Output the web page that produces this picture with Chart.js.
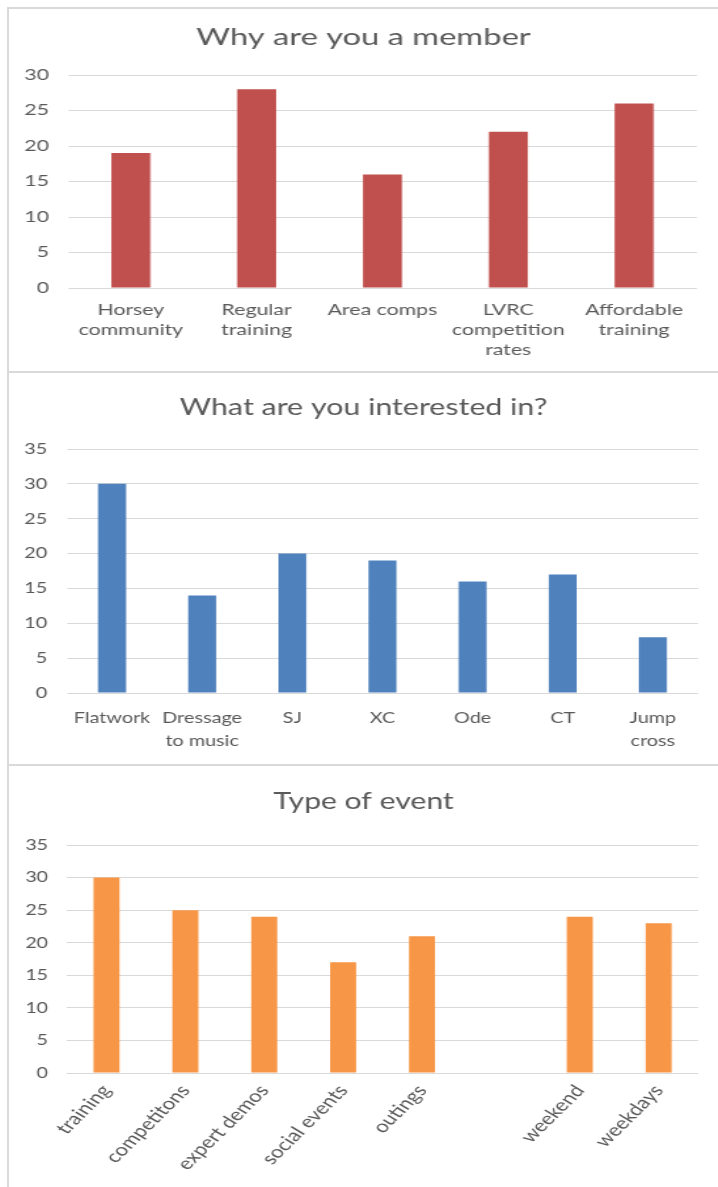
<!DOCTYPE html>
<html>
<head>
<meta charset="utf-8">
<script src="https://cdn.jsdelivr.net/npm/chart.js@4.4.1/dist/chart.umd.min.js"></script>
<style>
  body { margin: 0; background: #fff; width: 718px; height: 1187px; overflow: hidden; position: relative; }
  .line { position: absolute; background: #d9d9d9; }
  .panel { position: absolute; left: 9px; transform-origin: 0 0; }
</style>
</head>
<body>
<div class="line" style="left:7px;top:7px;width:711px;height:2px"></div>
<div class="line" style="left:7px;top:7px;width:2px;height:1180px"></div>
<div class="line" style="left:7px;top:371px;width:711px;height:2px"></div>
<div class="line" style="left:7px;top:764px;width:711px;height:2px"></div>

<div class="panel" id="panel1" style="top:9px;width:499px;height:362px"><canvas id="memberChart"></canvas></div>
<div class="panel" id="panel2" style="top:373px;width:537px;height:391px"><canvas id="interestChart"></canvas></div>
<div class="panel" id="panel3" style="top:766px;width:541px;height:421px"><canvas id="eventChart"></canvas></div>

<script>
// Why are you a member
const memberLabels = [['Horsey', 'community'], ['Regular', 'training'], 'Area comps', ['LVRC', 'competition', 'rates'], ['Affordable', 'training']];
const memberCounts = [19, 28, 16, 22, 26];

// What are you interested in?
const interestLabels = ['Flatwork', ['Dressage', 'to music'], 'SJ', 'XC', 'Ode', 'CT', ['Jump', 'cross']];
const interestCounts = [30, 14, 20, 19, 16, 17, 8];

// Type of event (one empty slot between outings and weekend)
const eventLabels = ['training', 'competitons', 'expert demos', 'social events', 'outings', '', 'weekend', 'weekdays'];
const eventCounts = [30, 25, 24, 17, 21, null, 24, 23];

const TEXT = '#595959';
const GRID = '#d9d9d9';
const FONT = 'Lato';

// the source picture is stretched sideways, so each panel is drawn narrow and scaled out
function stretchPanel(id) {
    const el = document.getElementById(id);
    const w = parseFloat(el.style.width);
    el.style.transform = 'scaleX(' + (709 / w) + ')';
}

function barChart(canvasId, cfg) {
    const ctx = document.getElementById(canvasId);
    if (!ctx) return;

    new Chart(ctx, {
        type: 'bar',
        data: {
            labels: cfg.labels,
            datasets: [{
                data: cfg.values,
                backgroundColor: cfg.color,
                borderWidth: 0,
                barPercentage: cfg.barPct,
                categoryPercentage: 1
            }]
        },
        options: {
            responsive: true,
            maintainAspectRatio: false,
            animation: false,
            devicePixelRatio: 1,
            layout: { padding: 0 },
            plugins: {
                legend: { display: false },
                tooltip: { enabled: false },
                title: {
                    display: true,
                    text: cfg.title,
                    color: TEXT,
                    font: { family: FONT, size: 23, weight: 'normal', lineHeight: 1.2 },
                    padding: { top: cfg.titleTop, bottom: cfg.titleBottom }
                }
            },
            scales: {
                x: {
                    grid: { display: false, drawTicks: false },
                    border: { display: false },
                    ticks: {
                        color: TEXT,
                        font: { family: FONT, size: cfg.labelSize, lineHeight: cfg.labelLine },
                        padding: cfg.labelPad,
                        autoSkip: false,
                        minRotation: cfg.rotation,
                        maxRotation: cfg.rotation
                    },
                    afterFit: s => { s.height = cfg.xHeight; }
                },
                y: {
                    min: 0,
                    max: cfg.max,
                    grid: { color: GRID, lineWidth: 1, drawTicks: false },
                    border: { display: false },
                    ticks: {
                        stepSize: 5,
                        color: TEXT,
                        font: { family: FONT, size: 15 },
                        padding: cfg.yPad
                    },
                    afterFit: s => { s.width = cfg.yWidth; }
                },
                // empty right margin, keeps the title centred on the whole panel
                yRight: {
                    position: 'right',
                    grid: { display: false, drawTicks: false },
                    border: { display: false },
                    ticks: { display: false },
                    afterFit: s => { s.width = cfg.padRight; }
                }
            }
        }
    });
}

stretchPanel('panel1');
stretchPanel('panel2');
stretchPanel('panel3');

barChart('memberChart', {
    title: 'Why are you a member',
    labels: memberLabels,
    values: memberCounts,
    color: '#c0504d',
    max: 30,
    barPct: 0.31,
    padRight: 14.8,
    yWidth: 41.5,
    yPad: 13.3,
    titleTop: 15.2,
    titleBottom: 23.2,
    xHeight: 83,
    labelSize: 15,
    labelPad: 12,
    labelLine: 1.333,
    rotation: 0
});

barChart('interestChart', {
    title: 'What are you interested in?',
    labels: interestLabels,
    values: interestCounts,
    color: '#4f81bd',
    max: 35,
    barPct: 0.31,
    padRight: 15.2,
    yWidth: 43.9,
    yPad: 15,
    titleTop: 21.2,
    titleBottom: 27.2,
    xHeight: 71,
    labelSize: 15,
    labelPad: 13.5,
    labelLine: 1.53,
    rotation: 0
});

barChart('eventChart', {
    title: 'Type of event',
    labels: eventLabels,
    values: eventCounts,
    color: '#f79646',
    max: 35,
    barPct: 0.33,
    padRight: 15.2,
    yWidth: 44.3,
    yPad: 14.5,
    titleTop: 22.2,
    titleBottom: 29.2,
    xHeight: 114,
    labelSize: 17,
    labelPad: 8,
    labelLine: 1.2,
    rotation: 52
});
</script>
</body>
</html>
